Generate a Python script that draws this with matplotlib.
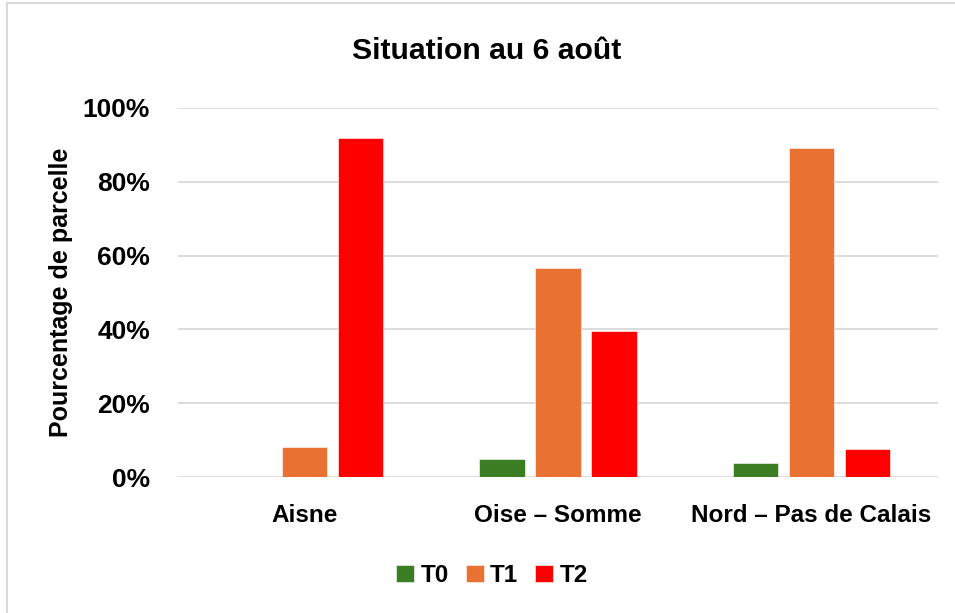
import numpy as np
import matplotlib
matplotlib.use("Agg")
import matplotlib.pyplot as plt
import matplotlib.patches as mpatches

# ── Data ──────────────────────────────────────────────────────────
categories = ["Aisne", "Oise – Somme", "Nord – Pas de Calais"]
series     = ["T0", "T1", "T2"]
t0_vals    = [0.0, 0.049, 0.038]
t1_vals    = [0.082, 0.565, 0.892]
t2_vals    = [0.919, 0.396, 0.076]
y_ticks    = [0.0, 0.2, 0.4, 0.6, 0.8, 1.0]
colors     = ["#3A7D22", "#E97132", "#FF0000"]

FONT = "Liberation Sans"

fig = plt.figure(figsize=(9.55, 6.13), dpi=100)
ax = fig.add_axes([0.1864, 0.2214, 0.7958, 0.6029])

# chart-area border (only top/left visible in the crop)
fig.patches.append(mpatches.Rectangle((7/955, -0.1), 1.2, 1.1 - 3/613,
                                      transform=fig.transFigure, fill=False,
                                      edgecolor="#d9d9d9", lw=1.5))

x = np.arange(len(categories))
width, step = 0.178, 0.221
for i, (name, vals) in enumerate(zip(series, [t0_vals, t1_vals, t2_vals])):
    ax.bar(x + (i - 1) * step, vals, width, color=colors[i], label=name,
           edgecolor="white", linewidth=0.4, zorder=3)

ax.set_xlim(-0.5, len(categories) - 0.5)
ax.set_ylim(0, 1.0)
ax.set_yticks(y_ticks)
ax.set_yticklabels([f"{int(round(v*100))}%" for v in y_ticks],
                   fontsize=19, fontweight="bold", family=FONT)
ax.set_xticks(x)
ax.set_xticklabels(categories, fontsize=17.5, fontweight="bold", family=FONT)
ax.tick_params(axis="y", length=0, pad=20)
ax.tick_params(axis="x", length=0, pad=19)
ax.grid(axis="y", color="#d9d9d9", lw=1.3, zorder=0)
ax.set_axisbelow(True)
for sp in ax.spines.values():
    sp.set_visible(False)

ax.set_ylabel("Pourcentage de parcelle", fontsize=18, fontweight="bold",
              family=FONT)
ax.yaxis.set_label_coords(-0.138, 0.5)

fig.text(0.51, 1 - 51/613, "Situation au 6 août", ha="center", va="center",
         fontsize=21.7, fontweight="bold", family=FONT)

fig.legend(loc="center", bbox_to_anchor=(492/955, 1 - 575.5/613), ncol=3,
           frameon=False, prop={"family": FONT, "weight": "bold", "size": 17.5},
           handlelength=0.75, handleheight=0.75, handletextpad=0.25,
           columnspacing=0.7)

fig.savefig("out.png", dpi=100)
